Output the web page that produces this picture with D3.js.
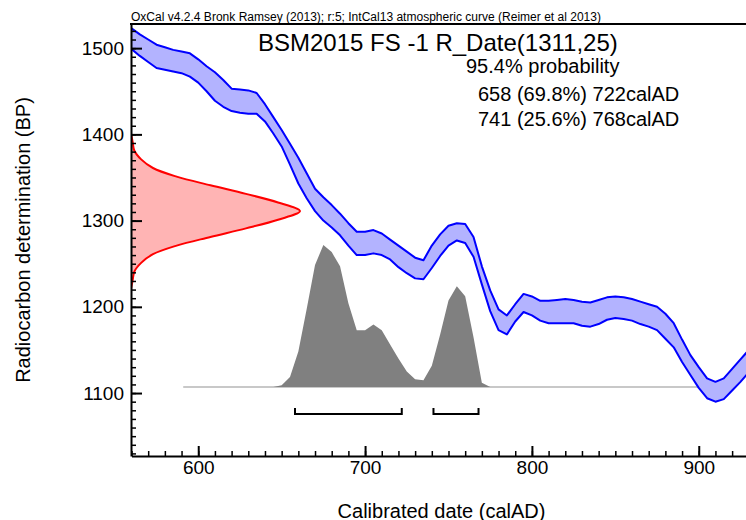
<!DOCTYPE html>
<html>
<head>
<meta charset="utf-8">
<script src="https://cdn.jsdelivr.net/npm/d3@7"></script>
<style>
  body { margin: 0; background: #fff; }
  svg { display: block; font-family: "Liberation Sans", Arial, sans-serif; }
</style>
</head>
<body>
<svg id="chart" width="746" height="520"></svg>
<script>
// calibration curve (IntCal13), 5 year steps, upper / lower edge of band in BP
var curveYears = [560,565,570,575,580,585,590,595,600,605,610,615,620,625,630,635,640,645,650,655,
  660,665,670,675,680,685,690,695,700,705,710,715,720,725,730,735,740,745,750,755,760,765,770,775,
  780,785,790,795,800,805,810,815,820,825,830,835,840,845,850,855,860,865,870,875,880,885,890,895,
  900,905,910,915,920,925,930];
var curveUpper = [1523,1516,1510,1504,1501,1498,1496,1494,1487,1479,1472,1463,1453,1452,1451,1448,1435,1420,1405,1389,
  1373,1355,1337,1327,1318,1308,1297,1287,1287,1289,1285,1278,1271,1264,1257,1254,1271,1284,1294,1297,
  1296,1281,1247,1219,1197,1190,1203,1215,1212,1207,1207,1208,1209,1208,1206,1205,1208,1211,1212,1211,
  1209,1206,1203,1200,1192,1181,1162,1144,1130,1117,1113,1117,1128,1139,1150];
var curveLower = [1499,1491,1484,1477,1475,1473,1471,1467,1460,1450,1439,1432,1427,1425,1424,1424,1415,1401,1386,1365,
  1343,1326,1311,1300,1292,1283,1271,1260,1260,1262,1260,1255,1246,1239,1233,1232,1245,1259,1271,1277,
  1274,1258,1226,1195,1173,1168,1183,1194,1190,1184,1181,1181,1181,1181,1178,1177,1180,1185,1187,1186,
  1184,1180,1177,1173,1163,1153,1136,1121,1106,1094,1090,1093,1103,1113,1124];

var measBP = [1401,1391,1381,1371,1361,1351,1341,1331,1321,1311,1301,1291,1281,1271,1261,1251,1241,1231,1221];
var measDens = [0,0.01,0.02,0.06,0.13,0.27,0.47,0.68,0.87,1,0.87,0.68,0.47,0.27,0.13,0.06,0.02,0.01,0];

// calibrated posterior, relative probability
var postYears = [645,650,655,660,665,670,675,680,685,690,695,700,705,710,715,720,725,730,735,740,745,750,755,760,765,770,775];
var postProb = [0,0.012,0.07,0.25,0.55,0.86,1,0.95,0.85,0.59,0.4,0.4,0.44,0.4,0.3,0.2,0.11,0.055,0.047,0.15,0.37,0.61,0.71,0.64,0.35,0.03,0];
var postRange = [591, 900];

// 95.4% ranges
var ranges = [[658, 722], [741, 768]];

var headerText = "OxCal v4.2.4 Bronk Ramsey (2013); r:5; IntCal13 atmospheric curve (Reimer et al 2013)";
var titleText = "BSM2015 FS -1 R_Date(1311,25)";
var probText = "95.4% probability";
var rangeText = ["658 (69.8%) 722calAD", "741 (25.6%) 768calAD"];

var xMajor = [600, 700, 800, 900];
var yMajor = [1100, 1200, 1300, 1400, 1500];

var svg = d3.select("#chart");

var x = d3.scaleLinear().domain([560, 930]).range([131.5, 748.8]);
var y = d3.scaleLinear().domain([1027, 1528]).range([456, 24]);
var dens = d3.scaleLinear().domain([0, 1]).range([131, 300]);
var prob = d3.scaleLinear().domain([0, 1]).range([y(1107), y(1107) - 142]);

svg.append("defs").append("clipPath").attr("id", "plot")
  .append("rect").attr("x", 131).attr("y", 24).attr("width", 620).attr("height", 432);

var g = svg.append("g").attr("clip-path", "url(#plot)");

// measurement curve on the y axis
var measPts = measBP.map(function(d, i) { return [d, measDens[i]]; });
g.append("path")
  .datum(measPts)
  .attr("d", d3.area().curve(d3.curveCatmullRom)
    .y(function(d) { return y(d[0]); })
    .x0(dens(0))
    .x1(function(d) { return dens(d[1]); }))
  .attr("fill", "#ffb4b4");
g.append("path")
  .datum(measPts)
  .attr("d", d3.line().curve(d3.curveCatmullRom)
    .y(function(d) { return y(d[0]); })
    .x(function(d) { return dens(d[1]); }))
  .attr("fill", "none").attr("stroke", "#ff0000").attr("stroke-width", 2)
  .attr("stroke-linejoin", "round");

// posterior baseline + distribution
g.append("line")
  .attr("x1", x(postRange[0])).attr("x2", x(postRange[1]))
  .attr("y1", prob(0)).attr("y2", prob(0))
  .attr("stroke", "#c8c8c8").attr("stroke-width", 2);

g.append("path")
  .datum(postYears)
  .attr("d", d3.area()
    .x(function(d) { return x(d); })
    .y0(prob(0))
    .y1(function(d, i) { return prob(postProb[i]); }))
  .attr("fill", "#808080");

// calibration band
g.append("path")
  .datum(curveYears)
  .attr("d", d3.area()
    .x(function(d) { return x(d); })
    .y0(function(d, i) { return y(curveLower[i]); })
    .y1(function(d, i) { return y(curveUpper[i]); }))
  .attr("fill", "#b3b3ff");

[curveUpper, curveLower].forEach(function(edge) {
  g.append("path")
    .datum(curveYears)
    .attr("d", d3.line()
      .x(function(d) { return x(d); })
      .y(function(d, i) { return y(edge[i]); }))
    .attr("fill", "none").attr("stroke", "#0000ff").attr("stroke-width", 2)
    .attr("stroke-linejoin", "round");
});

// range brackets
var by = 414;
ranges.forEach(function(r) {
  svg.append("path")
    .attr("d", "M" + x(r[0]) + "," + (by - 6) + "V" + by + "H" + x(r[1]) + "V" + (by - 6))
    .attr("fill", "none").attr("stroke", "#000").attr("stroke-width", 2);
});

// axes
var minorX = d3.range(560, 931, 10);
var minorY = d3.range(1030, 1528, 10);

svg.append("g")
  .attr("transform", "translate(0,456)")
  .call(d3.axisBottom(x).tickValues(minorX).tickSize(-5).tickSizeOuter(0).tickFormat(""))
  .call(function(s) { s.select(".domain").attr("stroke-width", 2); s.selectAll(".tick line").attr("stroke-width", 1.5); });
svg.append("g")
  .attr("transform", "translate(0,456)")
  .call(d3.axisBottom(x).tickValues(xMajor).tickSize(-10).tickSizeOuter(0).tickPadding(5))
  .call(function(s) {
    s.select(".domain").remove();
    s.selectAll(".tick line").attr("stroke-width", 2);
    s.selectAll("text").attr("font-size", 19).attr("fill", "#000").attr("font-family", "Liberation Sans, Arial, sans-serif");
  });

svg.append("g")
  .attr("transform", "translate(131,0)")
  .call(d3.axisLeft(y).tickValues(minorY).tickSize(-5).tickSizeOuter(0).tickFormat(""))
  .call(function(s) { s.select(".domain").attr("stroke-width", 2); s.selectAll(".tick line").attr("stroke-width", 1.5); });
svg.append("g")
  .attr("transform", "translate(131,0)")
  .call(d3.axisLeft(y).tickValues(yMajor).tickSize(-11).tickSizeOuter(0).tickPadding(7).tickFormat(d3.format("d")))
  .call(function(s) {
    s.select(".domain").remove();
    s.selectAll(".tick line").attr("stroke-width", 2);
    s.selectAll("text").attr("font-size", 19).attr("fill", "#000").attr("font-family", "Liberation Sans, Arial, sans-serif");
  });

// top border
svg.append("line")
  .attr("x1", 130).attr("x2", 746).attr("y1", 24).attr("y2", 24)
  .attr("stroke", "#000").attr("stroke-width", 2);

// texts
svg.append("text")
  .attr("x", 131).attr("y", 20.5)
  .attr("font-size", 12)
  .attr("textLength", 470).attr("lengthAdjust", "spacingAndGlyphs")
  .text(headerText);

svg.append("text").attr("x", 258).attr("y", 51).attr("font-size", 24).text(titleText);
svg.append("text").attr("x", 466).attr("y", 73).attr("font-size", 20).text(probText);
rangeText.forEach(function(t, i) {
  svg.append("text").attr("x", 478).attr("y", 100.5 + i * 25.5).attr("font-size", 20).text(t);
});

svg.append("text")
  .attr("transform", "translate(30,240) rotate(-90)")
  .attr("text-anchor", "middle")
  .attr("font-size", 20)
  .text("Radiocarbon determination (BP)");

svg.append("text")
  .attr("x", 441.5).attr("y", 517.5)
  .attr("text-anchor", "middle")
  .attr("font-size", 20)
  .text("Calibrated date (calAD)");
</script>
</body>
</html>
